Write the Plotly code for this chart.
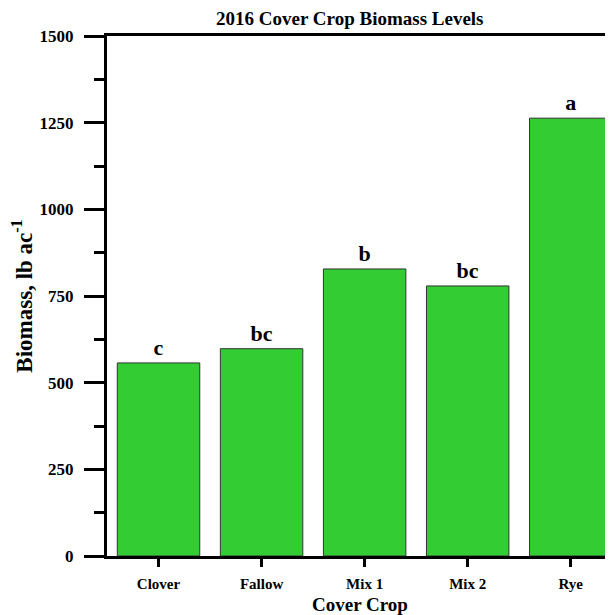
import plotly.graph_objects as go

categories = ["Clover", "Fallow", "Mix 1", "Mix 2", "Rye"]
biomass = [557, 598, 828, 779, 1263]
letters = ["c", "bc", "b", "bc", "a"]
y_ticks = [0, 250, 500, 750, 1000, 1250, 1500]

FONT = "Liberation Serif, Times New Roman, serif"

fig = go.Figure(
    go.Bar(
        x=list(range(len(categories))),
        y=biomass,
        text=letters,
        textposition="outside",
        textfont=dict(family=FONT, size=22, color="black", weight="bold"),
        marker=dict(color="#33CC33", line=dict(color="#333333", width=1)),
        width=0.8,
        cliponaxis=False,
    )
)

# page body has an 8px default margin, so the figure is sized to fill the rest
fig.update_layout(
    width=605,
    height=607,
    margin=dict(l=99, r=0, t=28, b=59, autoexpand=False),
    plot_bgcolor="white",
    paper_bgcolor="white",
    showlegend=False,
    title=dict(
        text="2016 Cover Crop Biomass Levels",
        font=dict(family=FONT, size=19, color="black", weight="bold"),
        x=0.565, xanchor="center", xref="container",
        y=0.9835, yanchor="middle", yref="container",
    ),
    font=dict(family=FONT, color="black"),
)

fig.update_xaxes(
    range=[-0.5, 4.41],
    automargin=False,
    tickmode="array",
    tickvals=list(range(len(categories))),
    ticktext=categories,
    ticks="outside",
    ticklen=8,
    tickwidth=3,
    tickcolor="black",
    ticklabelstandoff=4,
    tickfont=dict(family=FONT, size=15, color="black", weight="bold"),
    showline=True,
    linewidth=3,
    linecolor="black",
    mirror=True,
    showgrid=False,
    zeroline=False,
    title=dict(text="Cover Crop", font=dict(family=FONT, size=19, color="black", weight="bold"), standoff=8),
)

fig.update_yaxes(
    range=[0, 1500],
    automargin=False,
    tickmode="array",
    tickvals=y_ticks,
    ticktext=[str(v) for v in y_ticks],
    ticks="outside",
    ticklen=20,
    tickwidth=3,
    tickcolor="black",
    ticklabelstandoff=7,
    tickfont=dict(family=FONT, size=17, color="black", weight="bold"),
    minor=dict(dtick=125, tick0=0, ticks="outside", ticklen=10, tickwidth=3, tickcolor="black", showgrid=False),
    showline=True,
    linewidth=3,
    linecolor="black",
    mirror=True,
    showgrid=False,
    zeroline=False,
    title=dict(text="Biomass, lb ac<sup>-1</sup>", font=dict(family=FONT, size=23, color="black", weight="bold"), standoff=19),
)

fig.write_html("out.html")
